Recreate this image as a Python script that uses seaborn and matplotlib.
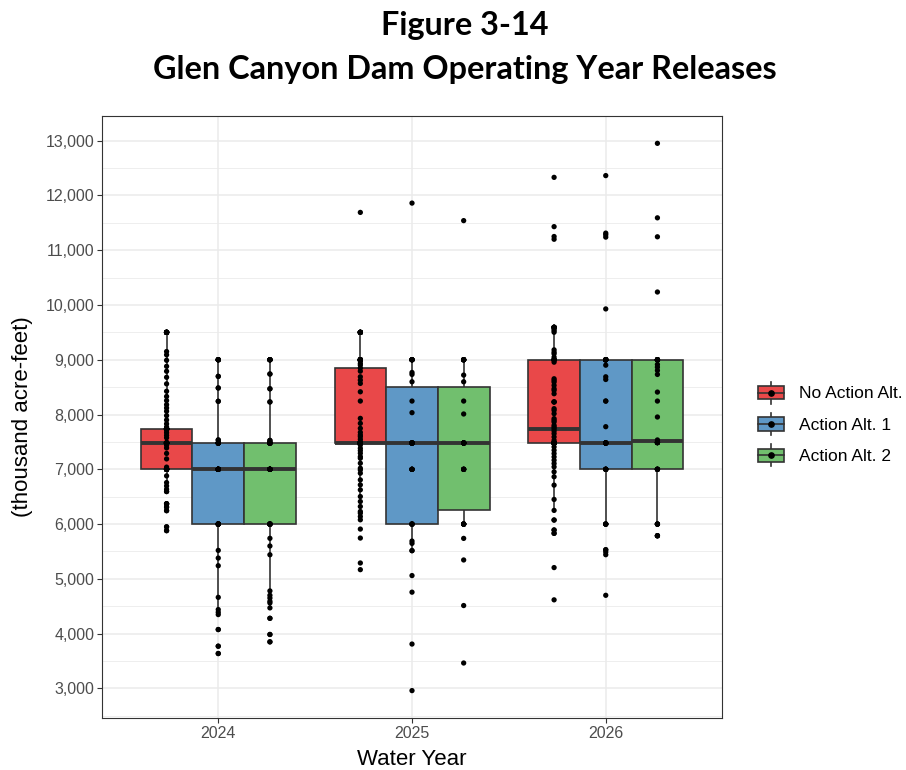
import numpy as np
import pandas as pd
import matplotlib
matplotlib.use("Agg")
import matplotlib.pyplot as plt
import seaborn as sns
from matplotlib.legend_handler import HandlerBase
from matplotlib.lines import Line2D
from matplotlib.patches import Rectangle, Patch
from matplotlib.ticker import StrMethodFormatter, MultipleLocator

# ---------------- data (thousand acre-feet) ----------------
years = ["2024", "2025", "2026"]
alternatives = ["No Action Alt.", "Action Alt. 1", "Action Alt. 2"]
box_colors = ["#E94849", "#5F98C6", "#71BF6E"]

# each list of release values has a matching list of trace counts
na_2024_vals = [5880, 5950, 6245, 6310, 6370, 6594, 6636, 6697, 6758, 6880, 7000,
                7040, 7190, 7290, 7390, 7440, 7480, 7576, 7620, 7667, 7710, 7740,
                7770, 7830, 7900, 7980, 8060, 8120, 8180, 8255, 8330, 8425, 8560,
                8680, 8790, 8880, 8990, 9090, 9150, 9500]
na_2024_counts = [2, 2, 2, 2, 4, 2, 1, 1, 1, 1, 14,
                  1, 1, 1, 1, 1, 30, 1, 1, 1, 1, 20,
                  1, 1, 1, 1, 1, 1, 1, 1, 1, 1, 1,
                  1, 1, 1, 1, 1, 1, 13]

a1_2024_vals = [3637, 3771, 4075, 4348, 4390, 4440, 4663, 5240, 5380, 5520, 6000,
                7000, 7480, 7536, 8242, 8485, 8697, 9000]
a1_2024_counts = [2, 2, 2, 1, 1, 1, 1, 1, 1, 1, 10,
                  13, 10, 2, 2, 2, 2, 7]

a2_2024_vals = [3850, 3985, 4280, 4470, 4560, 4590, 4650, 4700, 4780, 5440, 5600,
                5740, 6000, 7000, 7480, 7527, 8230, 8470, 8740, 9000]
a2_2024_counts = [2, 2, 2, 1, 1, 1, 1, 1, 1, 1, 1,
                  1, 8, 13, 10, 2, 2, 2, 2, 7]

na_2025_vals = [5168, 5290, 5745, 5909, 6078, 6138, 6200, 6230, 6321, 6412, 6503,
                6625, 6716, 6807, 6929, 6989, 7020, 7111, 7202, 7232, 7293, 7341,
                7384, 7444, 7480, 7505, 7548, 7596, 7627, 7675, 7748, 7839, 7930,
                8246, 8415, 8568, 8628, 8689, 8792, 8850, 8902, 8932, 8975, 9000,
                9500, 11690]
na_2025_counts = [1, 1, 1, 1, 1, 1, 1, 1, 1, 1, 1,
                  1, 1, 1, 1, 1, 1, 1, 1, 1, 1, 1,
                  1, 1, 37, 1, 1, 1, 1, 1, 1, 1, 1,
                  1, 1, 1, 1, 1, 1, 1, 1, 1, 1, 11,
                  10, 1]

a1_2025_vals = [2960, 3810, 4757, 5060, 5515, 5648, 5690, 6000, 7000, 7480, 8034,
                8246, 8598, 8732, 8768, 9000, 11860]
a1_2025_counts = [1, 1, 1, 1, 2, 1, 1, 5, 5, 11, 1,
                  1, 1, 1, 1, 7, 1]

a2_2025_vals = [3464, 4513, 5345, 5739, 6000, 7000, 7480, 8010, 8246, 8598, 8720,
                9000, 11540]
a2_2025_counts = [1, 1, 1, 1, 7, 5, 13, 1, 1, 1, 1,
                  8, 1]

na_2026_vals = [4617, 5206, 5831, 5892, 6074, 6250, 6450, 6711, 6864, 6954, 7045,
                7106, 7166, 7227, 7288, 7348, 7409, 7480, 7530, 7591, 7652, 7700,
                7740, 7773, 7803, 7864, 7894, 7925, 8016, 8076, 8107, 8230, 8380,
                8441, 8471, 8532, 8592, 8623, 8653, 8956, 9000, 9047, 9108, 9138,
                9181, 9502, 9533, 9563, 9593, 11200, 11250, 11430, 12330]
na_2026_counts = [1, 1, 2, 2, 2, 1, 1, 1, 1, 1, 1,
                  1, 1, 1, 1, 1, 1, 16, 1, 1, 1, 1,
                  1, 1, 1, 1, 1, 1, 1, 1, 1, 3, 1,
                  1, 1, 1, 1, 1, 1, 1, 5, 1, 1, 1,
                  1, 1, 1, 1, 5, 1, 1, 1, 1]

a1_2026_vals = [4700, 5441, 5490, 5532, 6000, 7000, 7480, 7778, 8246, 8640, 8689,
                8901, 9000, 9928, 11239, 11282, 11312, 12362]
a1_2026_counts = [1, 1, 1, 2, 5, 6, 12, 1, 2, 1, 1,
                  1, 12, 1, 1, 1, 1, 1]

a2_2026_vals = [5787, 6000, 7000, 7488, 7536, 7955, 8246, 8410, 8732, 8805, 8865,
                8914, 9000, 10237, 11245, 11591, 12951]
a2_2026_counts = [4, 5, 6, 6, 1, 1, 1, 1, 1, 1, 1,
                  1, 9, 1, 1, 1, 1]

groups = [
    ("2024", alternatives[0], na_2024_vals, na_2024_counts),
    ("2024", alternatives[1], a1_2024_vals, a1_2024_counts),
    ("2024", alternatives[2], a2_2024_vals, a2_2024_counts),
    ("2025", alternatives[0], na_2025_vals, na_2025_counts),
    ("2025", alternatives[1], a1_2025_vals, a1_2025_counts),
    ("2025", alternatives[2], a2_2025_vals, a2_2025_counts),
    ("2026", alternatives[0], na_2026_vals, na_2026_counts),
    ("2026", alternatives[1], a1_2026_vals, a1_2026_counts),
    ("2026", alternatives[2], a2_2026_vals, a2_2026_counts),
]
rows = []
for yr, alt, vals, cnts in groups:
    for v in np.repeat(vals, cnts):
        rows.append((yr, alt, float(v)))
df = pd.DataFrame(rows, columns=["year", "alt", "release"])

# ---------------- figure ----------------
plt.rcParams["font.family"] = ["Liberation Sans", "DejaVu Sans"]
fig = plt.figure(figsize=(9.06, 7.7), dpi=100, facecolor="white")
ax = fig.add_axes([102 / 906, 1 - 718 / 770, 620 / 906, 602 / 770])
ax.set_facecolor("white")

sns.boxplot(data=df, x="year", y="release", hue="alt", order=years,
            hue_order=alternatives, palette=box_colors, saturation=1,
            width=0.8, gap=0, whis=(10, 90), showfliers=False, showcaps=False,
            linecolor="#333333", linewidth=1.2,
            medianprops={"linewidth": 2.8}, legend=False, ax=ax)
sns.stripplot(data=df, x="year", y="release", hue="alt", order=years,
              hue_order=alternatives, palette=["black"] * 3, dodge=True,
              jitter=False, size=3.8, linewidth=0, legend=False, zorder=3, ax=ax)

ax.set_xlim(-0.6, 2.6)
ax.set_ylim(2460, 13450)
ax.set_yticks(range(3000, 13001, 1000))
ax.yaxis.set_minor_locator(MultipleLocator(500))
ax.yaxis.set_major_formatter(StrMethodFormatter("{x:,.0f}"))
ax.set_axisbelow(True)
ax.grid(which="major", color="#EBEBEB", linewidth=1.1)
ax.grid(which="minor", axis="y", color="#EBEBEB", linewidth=0.6)
ax.tick_params(which="minor", length=0)
ax.tick_params(which="major", length=3.5, width=0.8, color="#333333",
               labelcolor="#4D4D4D", labelsize=11.5, pad=2)
for sp in ax.spines.values():
    sp.set_color("#333333")
    sp.set_linewidth(0.8)

ax.set_xlabel("Water Year", fontsize=16, color="black", labelpad=6)
ax.set_ylabel("(thousand acre-feet)", fontsize=16, color="black", labelpad=9)

fig.text(465 / 906, 1 - 26 / 770, "Figure 3-14", ha="center", va="center",
         fontsize=23.3, fontweight="bold", family=["Lato", "DejaVu Sans"])
fig.text(465 / 906, 1 - 69 / 770, "Glen Canyon Dam Operating Year Releases",
         ha="center", va="center", fontsize=23.3, fontweight="bold",
         family=["Lato", "DejaVu Sans"])


class BoxKey(HandlerBase):
    def create_artists(self, legend, orig_handle, xdescent, ydescent, width,
                       height, fontsize, trans):
        face = orig_handle.get_facecolor()
        x0, y0 = -xdescent, -ydescent
        cx, cy = x0 + width / 2, y0 + height / 2
        bh = height * 0.6
        whisk = Line2D([cx, cx], [y0, y0 + height], color="#333333", lw=1.2,
                       transform=trans)
        rect = Rectangle((x0, cy - bh / 2), width, bh, facecolor=face,
                         edgecolor="#333333", lw=1.2, transform=trans)
        med = Line2D([x0, x0 + width], [cy, cy], color="#333333", lw=1.2,
                     transform=trans)
        dot = Line2D([cx], [cy], marker="o", ms=3.8, color="black", ls="none",
                     transform=trans)
        return [whisk, rect, med, dot]


handles = [Patch(facecolor=c) for c in box_colors]
fig.legend(handles, alternatives, handler_map={Patch: BoxKey()},
           loc="center left", bbox_to_anchor=(758 / 906, 1 - 424 / 770),
           frameon=False, fontsize=12.5, handlelength=1.5, handleheight=1.55,
           handletextpad=0.85, labelspacing=0.55, borderpad=0, borderaxespad=0)

fig.savefig("out.png", dpi=100, facecolor="white")
